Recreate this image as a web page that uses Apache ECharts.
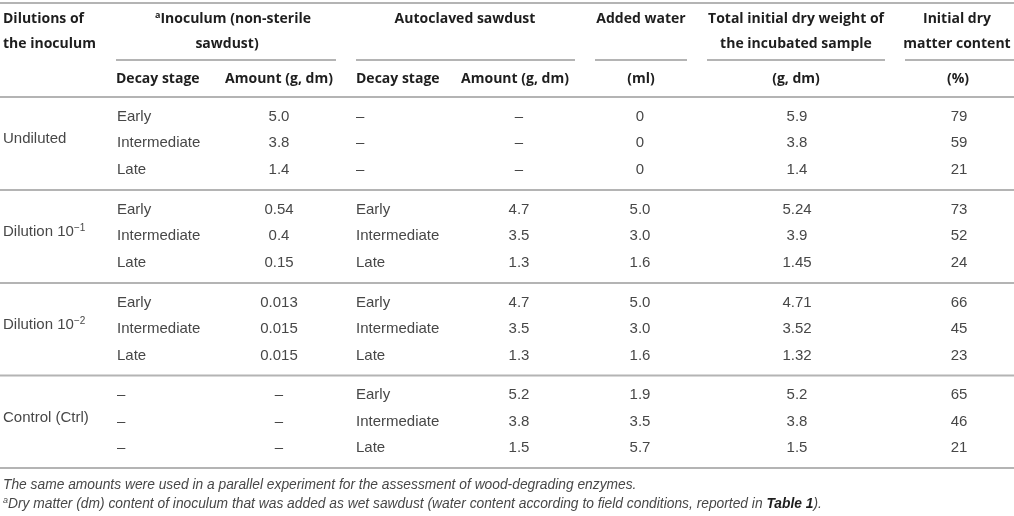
<!DOCTYPE html>
<html><head><meta charset="utf-8">
<script src="https://cdn.jsdelivr.net/npm/echarts@6/dist/echarts.min.js"></script>
<style>html,body{margin:0;padding:0;background:#fff}#main{width:1014px;height:516px}</style>
</head><body><div id="main"></div>
<script>
// ---------------- data ----------------
const groupLabels = ['Undiluted', 'Dilution 10', 'Dilution 10', 'Control (Ctrl)'];
const groupExponents = ['', '−1', '−2', ''];
const inoculumStage = [
  ['Early', 'Intermediate', 'Late'],
  ['Early', 'Intermediate', 'Late'],
  ['Early', 'Intermediate', 'Late'],
  ['–', '–', '–']
];
const inoculumAmount = [['5.0', '3.8', '1.4'], ['0.54', '0.4', '0.15'], ['0.013', '0.015', '0.015'], ['–', '–', '–']];
const sawdustStage = [
  ['–', '–', '–'],
  ['Early', 'Intermediate', 'Late'],
  ['Early', 'Intermediate', 'Late'],
  ['Early', 'Intermediate', 'Late']
];
const sawdustAmount = [['–', '–', '–'], ['4.7', '3.5', '1.3'], ['4.7', '3.5', '1.3'], ['5.2', '3.8', '1.5']];
const addedWater = [['0', '0', '0'], ['5.0', '3.0', '1.6'], ['5.0', '3.0', '1.6'], ['1.9', '3.5', '5.7']];
const totalDryWeight = [['5.9', '3.8', '1.4'], ['5.24', '3.9', '1.45'], ['4.71', '3.52', '1.32'], ['5.2', '3.8', '1.5']];
const initialDryMatter = [['79', '59', '21'], ['73', '52', '24'], ['66', '45', '23'], ['65', '46', '21']];
const headerLine1 = ['Dilutions of', '{sup|a}Inoculum (non-sterile', 'Autoclaved sawdust', 'Added water', 'Total initial dry weight of', 'Initial dry'];
const headerLine2 = ['the inoculum', 'sawdust)', '', '', 'the incubated sample', 'matter content'];
const subHeaders = ['Decay stage', 'Amount (g, dm)', 'Decay stage', 'Amount (g, dm)', '(ml)', '(g, dm)', '(%)'];
const footnotes = [
  'The same amounts were used in a parallel experiment for the assessment of wood-degrading enzymes.',
  '{sup|a}Dry matter (dm) content of inoculum that was added as wet sawdust (water content according to field conditions, reported in {strong|Table 1}).'
];

// ---------------- layout ----------------
const W = 1014, H = 516;
const HEAD_FAMILY = '"Open Sans", "Liberation Sans", Arial, sans-serif';
const BODY_FAMILY = '"Liberation Sans", Arial, sans-serif';
const HEAD_COLOR = '#1e1e1e', BODY_COLOR = '#474747', RULE_COLOR = '#b4b4b4';
const LEFT = 3;
const head1X = [LEFT, 233, 465, 641, 796, 957];
const head2X = [LEFT, 227, 465, 641, 796, 957];
const head1Y = 19, head2Y = 44;
const spanRules = [[116, 336], [356, 575], [595, 687], [707, 885], [905, W]];
const spanRuleY = 60;
const subX = [116, 279, 356, 515, 641, 796, 958];
const subAlign = ['left', 'center', 'left', 'center', 'center', 'center', 'center'];
const subY = 79;
const groupRuleY = [97, 190, 283, 375.5, 468];
const rowOffset = 19.5, rowStep = 26.5, labelOffset = 42;
const bodyX = [117, 279, 356, 519, 640, 797, 959];
const bodyAlign = ['left', 'center', 'left', 'center', 'center', 'center', 'center'];
const footY = [485, 504];

// ---------------- styles ----------------
function mkStyle(style, weight, size, family, fill, lineHeight) {
  return { font: style + ' ' + weight + ' ' + size + 'px ' + family, fontStyle: style, fontWeight: weight, fontSize: size, fontFamily: family, fill, lineHeight };
}
const kindStyle = {
  head: mkStyle('normal', 'bold', 14, HEAD_FAMILY, HEAD_COLOR, 17),
  body: mkStyle('normal', 'normal', 15, BODY_FAMILY, BODY_COLOR, 17),
  foot: mkStyle('italic', 'normal', 13.8, BODY_FAMILY, BODY_COLOR, 16)
};
const supStyle = {
  head: Object.assign(mkStyle('normal', 'bold', 9, HEAD_FAMILY, HEAD_COLOR, 11), { verticalAlign: 'top' }),
  body: Object.assign(mkStyle('normal', 'normal', 10, BODY_FAMILY, BODY_COLOR, 11), { verticalAlign: 'top' }),
  foot: Object.assign(mkStyle('italic', 'normal', 9, BODY_FAMILY, BODY_COLOR, 11), { verticalAlign: 'top' })
};
const strongStyle = mkStyle('italic', 'bold', 13.8, BODY_FAMILY, '#1e1e1e', 16);
function richFor(kind) {
  return { base: Object.assign({}, kindStyle[kind]), sup: supStyle[kind], strong: strongStyle };
}
function wrapPlain(text) {
  return text.split(/(\{[a-z]+\|[^}]*\})/).filter(s => s.length)
    .map(s => s.charAt(0) === '{' ? s : '{base|' + s + '}').join('');
}

// ---------------- build cells ----------------
const cells = [];
function addCell(x, y, text, align, kind) { cells.push({ x, y, text, align, kind }); }

headerLine1.forEach((t, i) => addCell(head1X[i], head1Y, t, i === 0 ? 'left' : 'center', 'head'));
headerLine2.forEach((t, i) => { if (t) addCell(head2X[i], head2Y, t, i === 0 ? 'left' : 'center', 'head'); });
subHeaders.forEach((t, i) => addCell(subX[i], subY, t, subAlign[i], 'head'));

const bodyColumns = [inoculumStage, inoculumAmount, sawdustStage, sawdustAmount, addedWater, totalDryWeight, initialDryMatter];
groupLabels.forEach((label, g) => {
  const top = groupRuleY[g];
  const txt = groupExponents[g] ? label + '{sup|' + groupExponents[g] + '}' : label;
  addCell(LEFT, top + labelOffset, txt, 'left', 'body');
  bodyColumns.forEach((col, c) => {
    col[g].forEach((v, r) => addCell(bodyX[c], top + rowOffset + r * rowStep, v, bodyAlign[c], 'body'));
  });
});
footnotes.forEach((t, i) => addCell(LEFT, footY[i], t, 'left', 'foot'));

const rules = [[0, W, 3]];
spanRules.forEach(s => rules.push([s[0], s[1], spanRuleY]));
groupRuleY.forEach(y => rules.push([0, W, y]));

const chart = echarts.init(document.getElementById('main'), null, { renderer: 'canvas' });
chart.setOption({
  animation: false,
  backgroundColor: '#fff',
  grid: { left: 0, right: 0, top: 0, bottom: 0 },
  xAxis: { type: 'value', min: 0, max: W, show: false },
  yAxis: { type: 'value', min: 0, max: H, inverse: true, show: false },
  series: [
    {
      type: 'custom', name: 'rules', silent: true, clip: false,
      data: rules,
      renderItem: (params, api) => {
        const a = api.coord([api.value(0), api.value(2)]);
        const b = api.coord([api.value(1), api.value(2)]);
        return { type: 'line', shape: { x1: a[0], y1: a[1], x2: b[0], y2: b[1] }, style: { stroke: RULE_COLOR, lineWidth: 2 } };
      }
    },
    {
      type: 'custom', name: 'cells', silent: true, clip: false,
      data: cells.map(c => [c.x, c.y]),
      renderItem: (params, api) => {
        const c = cells[params.dataIndex];
        const p = api.coord([api.value(0), api.value(1)]);
        const hasRich = c.text.indexOf('{') >= 0;
        const style = Object.assign({}, kindStyle[c.kind], {
          text: hasRich ? wrapPlain(c.text) : c.text,
          align: c.align, verticalAlign: 'middle'
        });
        if (hasRich) style.rich = richFor(c.kind);
        return { type: 'text', x: p[0], y: p[1], style };
      }
    }
  ]
});
</script></body></html>
